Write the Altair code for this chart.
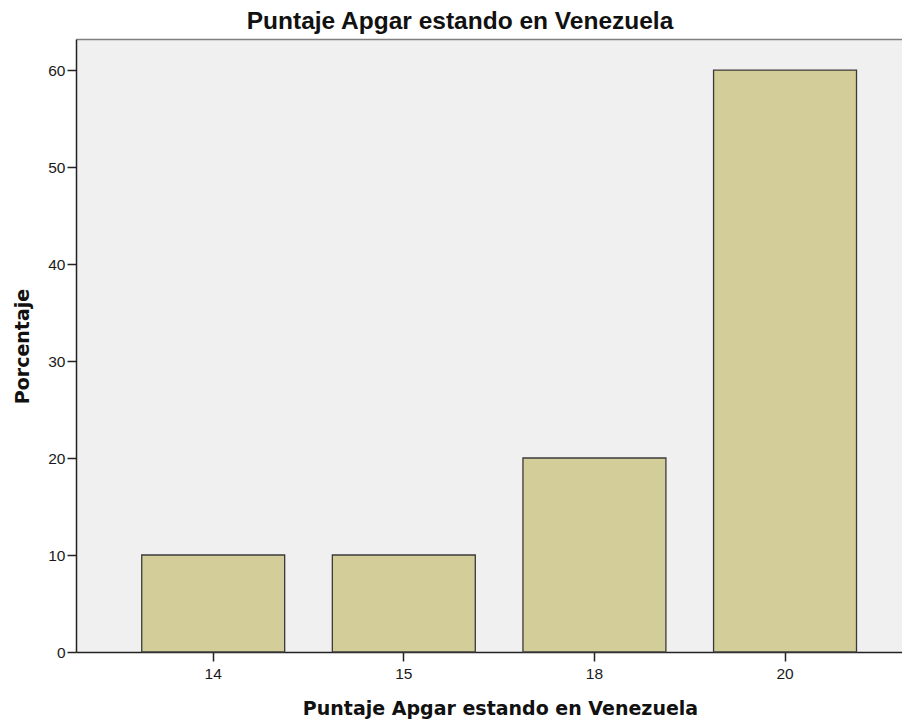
import altair as alt
import pandas as pd

# Data
scores = ["14", "15", "18", "20"]
percentages = [10, 10, 20, 60]
y_ticks = [0, 10, 20, 30, 40, 50, 60]

df = pd.DataFrame({"score": scores, "pct": percentages})

TITLE = "Puntaje Apgar estando en Venezuela"

x_scale = alt.Scale(paddingInner=0.25, paddingOuter=0.2917, align=0.591)
y_scale = alt.Scale(domain=[0, 63.2], nice=False, zero=True)

bars = (
    alt.Chart(df)
    .mark_bar(fill="#d3ce99", stroke="#3a3a3a", strokeWidth=1.3)
    .encode(
        x=alt.X(
            "score:N",
            sort=scores,
            scale=x_scale,
            axis=alt.Axis(
                title=TITLE,
                titleFont="DejaVu Sans",
                titleFontSize=19,
                titleFontWeight="bold",
                titleColor="#111111",
                titleX=424,
                titleY=62,
                titleAlign="center",
                titleBaseline="alphabetic",
                labelAngle=0,
                labelFont="Liberation Sans",
                labelFontSize=15.5,
                labelColor="#1a1a1a",
                labelPadding=5,
                tickSize=9,
                tickColor="#222222",
                tickWidth=1.5,
                domainColor="#222222",
                domainWidth=1.5,
                grid=False,
            ),
        ),
        y=alt.Y(
            "pct:Q",
            scale=y_scale,
            axis=alt.Axis(
                values=y_ticks,
                title="Porcentaje",
                titleFont="DejaVu Sans",
                titleFontSize=19,
                titleFontWeight="bold",
                titleColor="#111111",
                titleAngle=270,
                titleX=-48,
                titleY=307,
                titleAlign="center",
                titleBaseline="alphabetic",
                labelFont="Liberation Sans",
                labelFontSize=15.5,
                labelColor="#1a1a1a",
                labelPadding=2,
                tickSize=9,
                tickColor="#222222",
                tickWidth=1.5,
                domainColor="#222222",
                domainWidth=1.5,
                grid=False,
            ),
        ),
    )
)

# invisible layer that only carries the grey frame line along the top
top_frame = (
    alt.Chart(df)
    .mark_bar(opacity=0)
    .encode(
        x=alt.X(
            "score:N",
            sort=scores,
            scale=x_scale,
            axis=alt.Axis(
                orient="top",
                title=None,
                labels=False,
                ticks=False,
                domainColor="#808080",
                domainWidth=1.5,
                grid=False,
            ),
        ),
        y=alt.Y("pct:Q", scale=y_scale, axis=None),
    )
)

chart = (
    alt.layer(bars, top_frame)
    .resolve_axis(x="independent", y="independent")
    .properties(
        width=826,
        height=613,
        title=alt.Title(
            TITLE,
            font="Liberation Sans",
            fontSize=24.5,
            fontWeight="bold",
            color="#111111",
            anchor="middle",
            dx=-29,
            dy=26,
            offset=12,
            baseline="alphabetic",
        ),
        autosize=alt.AutoSizeParams(type="none"),
        padding={"left": 68, "top": 31, "right": 0, "bottom": 68},
        background="white",
    )
    .configure_view(fill="#f0f0f0", strokeOpacity=0)
)

chart.save("out.html", embed_options={"renderer": "svg", "actions": False})
